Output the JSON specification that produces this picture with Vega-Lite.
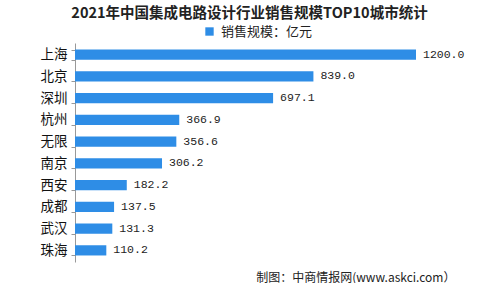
{
  "$schema": "https://vega.github.io/schema/vega-lite/v6.json",
  "width": 341,
  "height": 219,
  "autosize": {"type": "none"},
  "padding": {"left": 75, "top": 43, "right": 83, "bottom": 21},
  "background": "white",
  "title": {
    "text": "2021年中国集成电路设计行业销售规模TOP10城市统计",
    "font": "Noto Sans CJK SC",
    "fontSize": 14.5,
    "fontWeight": "bold",
    "color": "#222222",
    "anchor": "middle",
    "offset": 4,
    "dx": 4
  },
  "data": {
    "values": [
      {"city": "上海", "value": 1200.0},
      {"city": "北京", "value": 839.0},
      {"city": "深圳", "value": 697.1},
      {"city": "杭州", "value": 366.9},
      {"city": "无限", "value": 356.6},
      {"city": "南京", "value": 306.2},
      {"city": "西安", "value": 182.2},
      {"city": "成都", "value": 137.5},
      {"city": "武汉", "value": 131.3},
      {"city": "珠海", "value": 110.2}
    ]
  },
  "encoding": {
    "y": {
      "field": "city",
      "type": "nominal",
      "sort": null,
      "scale": {"paddingInner": 0.53, "paddingOuter": 0.3},
      "axis": {
        "title": null,
        "labelFont": "Noto Sans CJK SC",
        "labelFontSize": 13.5,
        "labelColor": "#111111",
        "labelPadding": 4,
        "tickSize": 4,
        "tickColor": "#999999",
        "tickBand": "extent",
        "domainColor": "#999999",
        "grid": false
      }
    },
    "x": {
      "field": "value",
      "type": "quantitative",
      "scale": {"domain": [0, 1200], "nice": false},
      "axis": {
        "title": "制图：中商情报网(www.askci.com）",
        "titleFont": "Noto Sans CJK SC",
        "titleFontSize": 12,
        "titleFontWeight": "normal",
        "titleColor": "#222222",
        "titleAlign": "right",
        "titleAnchor": null,
        "titleX": 380,
        "titleY": 10,
        "labels": false,
        "ticks": false,
        "domain": false,
        "grid": false
      }
    }
  },
  "layer": [
    {
      "mark": {"type": "bar"},
      "encoding": {
        "color": {
          "datum": "销售规模：亿元",
          "scale": {"range": ["#2e8de6"]},
          "legend": {
            "title": null,
            "orient": "none",
            "legendX": 128,
            "legendY": -18,
            "symbolType": "square",
            "symbolSize": 70,
            "labelFont": "Noto Sans CJK SC",
            "labelFontSize": 13,
            "labelColor": "#222222",
            "labelOffset": 5
          }
        }
      }
    },
    {
      "mark": {
        "type": "text",
        "align": "left",
        "dx": 7,
        "font": "Liberation Mono",
        "fontSize": 11.5,
        "color": "#222222"
      },
      "encoding": {
        "text": {"field": "value", "type": "quantitative", "format": ".1f"}
      }
    }
  ],
  "config": {"view": {"stroke": null}}
}
